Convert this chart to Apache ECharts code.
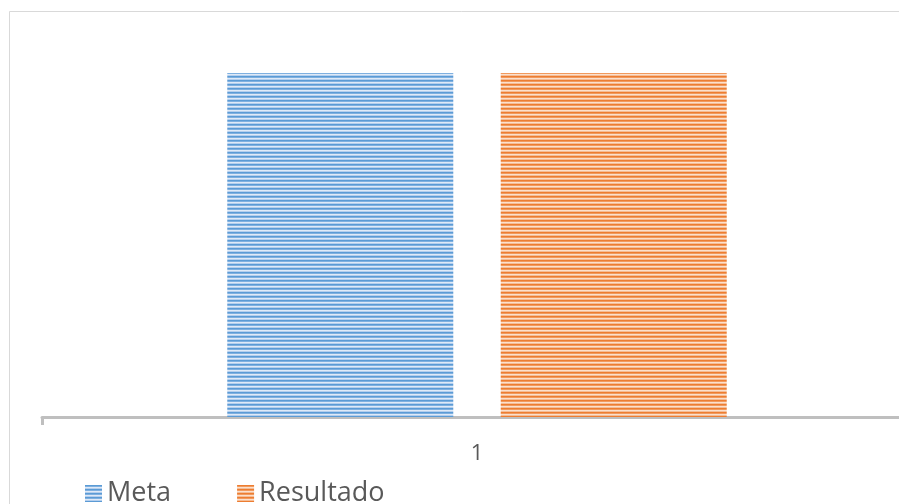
<!DOCTYPE html>
<html>
<head>
<meta charset="utf-8">
<script src="https://cdn.jsdelivr.net/npm/echarts@6/dist/echarts.min.js"></script>
<style>
  html, body { margin: 0; padding: 0; background: #fff; overflow: hidden; }
  /* the plot runs past the right edge of the picture, as in the original */
  #chart { width: 912px; height: 504px; }
</style>
</head>
<body>
<div id="chart"></div>
<script>
// data
const categories = ['1'];
const metaValues = [100];
const resultadoValues = [100];

// horizontal stripe fill, like the Excel pattern
function stripes(rows) {
  const c = document.createElement('canvas');
  c.width = 4;
  c.height = rows.length;
  const ctx = c.getContext('2d');
  rows.forEach((col, i) => {
    ctx.fillStyle = col;
    ctx.fillRect(0, i, 4, 1);
  });
  return { image: c, repeat: 'repeat' };
}

const blueFill = stripes(['#5b9bd5', '#7fb0e0', '#dfeaf7', '#b4cfee']);
const orangeFill = stripes(['#ed7d31', '#f19a5e', '#fbe0cd', '#f5bd96']);

const chart = echarts.init(document.getElementById('chart'));

const option = {
  animation: false,
  backgroundColor: '#fff',
  textStyle: { fontFamily: 'Open Sans' },
  grid: { left: 42, right: 0, top: 73, bottom: 87 },
  graphic: [
    {
      type: 'polyline',
      shape: { points: [[9.5, 520], [9.5, 11.5], [920, 11.5]] },
      style: { stroke: '#d9d9d9', lineWidth: 1, fill: null }
    }
  ],
  legend: {
    left: 80,
    top: 475,
    itemWidth: 17,
    itemHeight: 17,
    itemGap: 66,
    icon: 'rect',
    textStyle: { fontSize: 27, color: '#595959', fontFamily: 'Open Sans' },
    data: ['Meta', 'Resultado']
  },
  xAxis: {
    type: 'category',
    data: categories,
    axisLine: { lineStyle: { color: '#bfbfbf', width: 3 } },
    axisTick: { show: true, length: 8, lineStyle: { color: '#bfbfbf', width: 3 } },
    axisLabel: { fontSize: 22, color: '#595959', margin: 26 }
  },
  yAxis: {
    type: 'value',
    min: 0,
    max: 100,
    show: false,
    splitLine: { show: false }
  },
  series: [
    {
      name: 'Meta',
      type: 'bar',
      data: metaValues,
      barWidth: 226,
      barGap: '21%',
      itemStyle: { color: blueFill }
    },
    {
      name: 'Resultado',
      type: 'bar',
      data: resultadoValues,
      barWidth: 226,
      barGap: '21%',
      itemStyle: { color: orangeFill }
    }
  ]
};

chart.setOption(option);
</script>
</body>
</html>
